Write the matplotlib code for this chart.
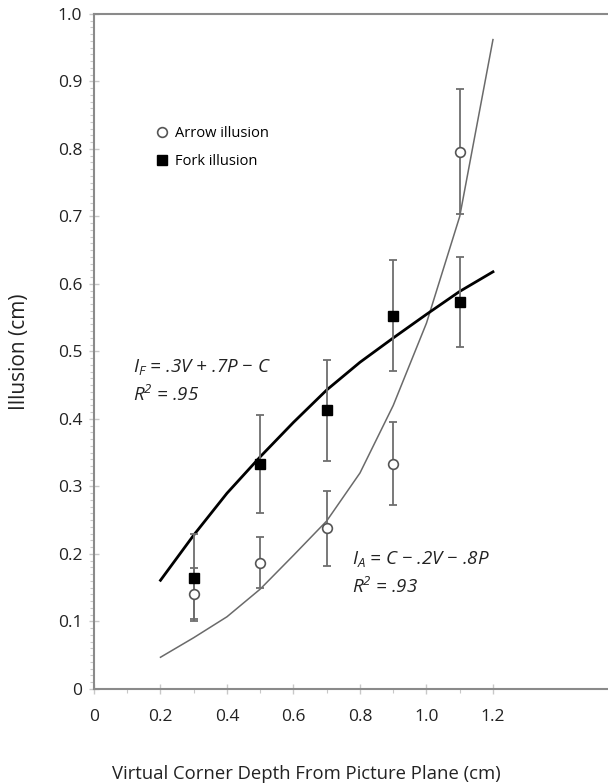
import matplotlib.pyplot as plt
import numpy as np
from matplotlib.ticker import MultipleLocator, FixedLocator

plt.rcParams['font.family'] = ['Open Sans', 'DejaVu Sans']
plt.rcParams['mathtext.fontset'] = 'custom'
plt.rcParams['mathtext.it'] = 'Open Sans:italic'
plt.rcParams['mathtext.rm'] = 'Open Sans:italic'

# data points (mean +- error)
depth = [0.3, 0.5, 0.7, 0.9, 1.1]
arrow_mean = [0.141, 0.187, 0.238, 0.334, 0.796]
arrow_err = [0.038, 0.038, 0.056, 0.062, 0.093]
fork_mean = [0.165, 0.333, 0.413, 0.553, 0.573]
fork_err = [0.065, 0.073, 0.075, 0.082, 0.067]

# model curves
curve_x = [0.2, 0.3, 0.4, 0.5, 0.6, 0.7, 0.8, 0.9, 1.0, 1.1, 1.2]
fork_fit = [0.161, 0.228, 0.290, 0.344, 0.395, 0.443, 0.484, 0.520, 0.555, 0.589, 0.618]
arrow_fit = [0.047, 0.076, 0.107, 0.148, 0.198, 0.249, 0.320, 0.420, 0.542, 0.700, 0.962]

xticks = [0, 0.2, 0.4, 0.6, 0.8, 1.0, 1.2]
xtick_labels = ['0', '0.2', '0.4', '0.6', '0.8', '1.0', '1.2']
yticks = [0, 0.1, 0.2, 0.3, 0.4, 0.5, 0.6, 0.7, 0.8, 0.9, 1.0]
ytick_labels = ['0', '0.1', '0.2', '0.3', '0.4', '0.5', '0.6', '0.7', '0.8', '0.9', '1.0']

fig = plt.figure(figsize=(6.08, 7.84), dpi=100)
ax = fig.add_axes([0.1546, 0.1212, 0.8454, 0.8610])

spine_col = '#8a8a8a'
err_col = '#6e6e6e'

ax.plot(curve_x, arrow_fit, color='#6a6a6a', lw=1.1, zorder=2)
ax.plot(curve_x, fork_fit, color='black', lw=2.0, zorder=2)

ax.errorbar(depth, arrow_mean, yerr=arrow_err, fmt='none', ecolor=err_col,
            elinewidth=1.3, capsize=3, capthick=1.3, zorder=3)
ax.errorbar(depth, fork_mean, yerr=fork_err, fmt='none', ecolor=err_col,
            elinewidth=1.3, capsize=3, capthick=1.3, zorder=3)

ax.plot(depth, arrow_mean, 'o', ms=7, mfc='white', mec='#555555', mew=1.2,
        ls='none', zorder=4, label='Arrow illusion')
ax.plot(depth, fork_mean, 's', ms=7, mfc='black', mec='black',
        ls='none', zorder=4, label='Fork illusion')

ax.legend(loc='upper left', bbox_to_anchor=(0.162, 0.845), bbox_transform=ax.transData,
          frameon=False, fontsize=10.5, handletextpad=0.35, handlelength=1.0,
          labelspacing=0.9, borderpad=0)

eq_kw = dict(fontsize=13.5, fontstyle='italic', va='center', ha='left', color='#222222')
ax.text(0.117, 0.477, 'I$_F$ = .3V + .7P \u2212 C', **eq_kw)
ax.text(0.117, 0.435, 'R$^2$ = .95', **eq_kw)
ax.text(0.776, 0.193, 'I$_A$ = C \u2212 .2V \u2212 .8P', **eq_kw)
ax.text(0.776, 0.151, 'R$^2$ = .93', **eq_kw)

ax.set_xlim(0, 1.546)
ax.set_ylim(0, 1.0)

ax.set_xticks(xticks)
ax.set_xticklabels(xtick_labels)
ax.xaxis.set_minor_locator(FixedLocator([0.1, 0.3, 0.5, 0.7, 0.9, 1.1]))
ax.set_yticks(yticks)
ax.set_yticklabels(ytick_labels)
ax.yaxis.set_minor_locator(MultipleLocator(0.01))

ax.tick_params(axis='both', which='major', direction='inout', length=7, width=1,
               color='#c8c8c8', labelsize=12.5, labelcolor='#222222')
ax.tick_params(axis='x', which='major', pad=11)
ax.tick_params(axis='y', which='major', pad=5)
ax.tick_params(axis='both', which='minor', direction='out', length=3, width=0.8, color='#c8c8c8')

for side in ['left', 'bottom', 'top']:
    ax.spines[side].set_color(spine_col)
    ax.spines[side].set_linewidth(1.5)
ax.spines['right'].set_visible(False)

ax.set_xlabel('Virtual Corner Depth From Picture Plane (cm)', fontsize=13.3, color='#222222')
ax.xaxis.set_label_coords(0.414, -0.113)
ax.set_ylabel('Illusion (cm)', fontsize=15, color='#222222')
ax.yaxis.set_label_coords(-0.125, 0.5)

fig.savefig('out.png', dpi=100)
